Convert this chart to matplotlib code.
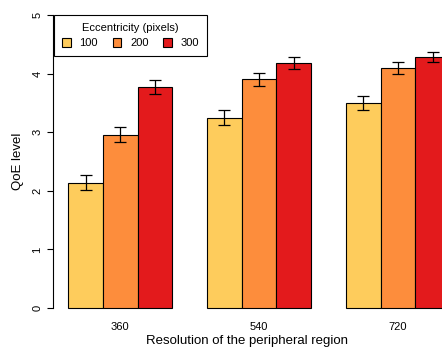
import matplotlib
matplotlib.use("Agg")
import matplotlib.pyplot as plt
from matplotlib.patches import Patch

plt.rcParams['font.family'] = ['Liberation Sans', 'DejaVu Sans']

# dataset
resolutions = ["360", "540", "720"]
eccentricities = ["100", "200", "300"]
qoe = [
    [2.14, 2.96, 3.77],   # 360
    [3.25, 3.90, 4.18],   # 540
    [3.50, 4.09, 4.29],   # 720
]
err = [
    [0.125, 0.135, 0.115],
    [0.13, 0.115, 0.105],
    [0.125, 0.10, 0.085],
]
colors = ["#FECC5C", "#FD8D3C", "#E31A1C"]

fig = plt.figure(figsize=(4.42, 3.5), dpi=100)
ax = fig.add_axes([53 / 442, 1 - 319.7 / 350, 1 - 53 / 442, (319.7 - 3.3) / 350])

# R-style beside barplot: 3 bars per group, one bar-width gap before each group
for g in range(len(resolutions)):
    for k in range(len(eccentricities)):
        x = 1 + g * 4 + k + 0.5
        ax.bar(x, qoe[g][k], width=1.0, color=colors[k], edgecolor="black", linewidth=0.8)
        ax.errorbar(x, qoe[g][k], yerr=err[g][k], color="black", capsize=4.6,
                    elinewidth=0.9, capthick=0.9)

ax.set_xlim(0.56, 0.56 + 389 / 34.7)
ax.set_ylim(-0.2, 5.2)

for s in ["top", "right", "bottom"]:
    ax.spines[s].set_visible(False)
ax.spines["left"].set_bounds(0, 5)
ax.spines["left"].set_linewidth(0.8)

ax.set_yticks([0, 1, 2, 3, 4, 5])
ax.set_yticklabels(["0", "1", "2", "3", "4", "5"], rotation=90, va="center")
ax.tick_params(axis="y", length=4.5, width=0.8, labelsize=8, pad=3)
ax.set_xticks([1 + g * 4 + 1.5 for g in range(len(resolutions))])
ax.set_xticklabels(resolutions)
ax.tick_params(axis="x", length=0, labelsize=8, pad=2)

ax.set_ylabel("QoE level", fontsize=9.5, labelpad=6)
ax.set_xlabel("Resolution of the peripheral region", fontsize=9.5, labelpad=2)

handles = [Patch(facecolor=c, edgecolor="black", linewidth=0.8) for c in colors]
leg = ax.legend(handles, eccentricities, title="Eccentricity (pixels)", ncol=3,
                loc="upper left", bbox_to_anchor=(54 / 442, 1 - 15 / 350),
                bbox_transform=fig.transFigure, borderaxespad=0, fancybox=False,
                edgecolor="black", framealpha=1, fontsize=8, title_fontsize=8,
                handlelength=0.8, handleheight=0.8, handletextpad=0.8,
                columnspacing=1.3, borderpad=0.7)
leg.get_frame().set_linewidth(0.8)

plt.savefig("out.png", dpi=100)
